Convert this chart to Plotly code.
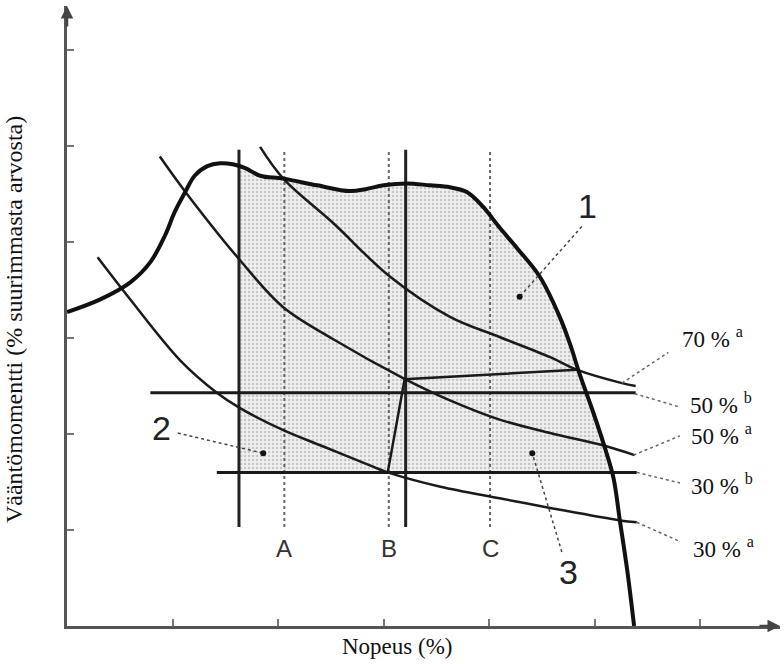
import plotly.graph_objects as go
import numpy as np

# ---------------- data (axis units: 1 tick = 1 unit) ----------------
tick_vals = [1, 2, 3, 4, 5, 6]

# full-load torque curve
full_x = [0, 0.31, 0.60, 0.79, 0.93, 1.02, 1.12, 1.21, 1.33, 1.45, 1.57, 1.69, 1.83, 2.05, 2.37,
          2.68, 2.83, 3.00, 3.22, 3.44, 3.63, 3.79, 3.94, 4.10, 4.27, 4.48, 4.67, 4.77,
          4.86, 4.98, 5.10, 5.18, 5.24, 5.31, 5.375]
full_y = [3.27, 3.40, 3.58, 3.79, 4.07, 4.31, 4.52, 4.69, 4.79, 4.82, 4.81, 4.77, 4.69, 4.66, 4.59,
          4.53, 4.55, 4.59, 4.61, 4.59, 4.57, 4.52, 4.37, 4.15, 3.93, 3.64, 3.22, 2.93,
          2.62, 2.25, 1.85, 1.54, 1.10, 0.58, 0.00]

# power hyperbolas
p70a_x = [1.83, 2.05, 2.52, 3.06, 3.63, 4.10, 4.58, 4.83, 5.26, 5.39]
p70a_y = [4.99, 4.66, 4.20, 3.64, 3.22, 3.01, 2.80, 2.67, 2.53, 2.50]
p50a_x = [0.88, 1.11, 1.64, 2.05, 2.52, 3.19, 3.63, 4.10, 4.58, 5.12, 5.38]
p50a_y = [4.89, 4.54, 3.81, 3.32, 2.99, 2.58, 2.35, 2.15, 2.01, 1.87, 1.78]
p30a_x = [0.29, 0.60, 1.07, 1.42, 1.64, 2.05, 2.43, 2.90, 3.04, 3.54, 4.10, 4.58, 5.24, 5.40]
p30a_y = [3.84, 3.40, 2.77, 2.43, 2.27, 2.04, 1.87, 1.66, 1.60, 1.45, 1.33, 1.23, 1.10, 1.08]

# constant torque lines
t50b_x = [0.79, 5.39]
t50b_y = [2.43, 2.43]
t30b_x = [1.42, 5.40]
t30b_y = [1.60, 1.60]

# connecting line
conn_x = [3.04, 3.20, 4.83]
conn_y = [1.60, 2.57, 2.67]

# vertical speed lines
solid_v_x = [1.63, 3.21]
dotted_v_x = [2.06, 3.05, 4.01]
v_y = [1.03, 4.96]
speed_names = ["A", "B", "C"]
speed_label_y = 0.81

# numbered zone labels
zone_names = ["1", "2", "3"]
zone_text_x = [4.93, 0.90, 4.75]
zone_text_y = [4.38, 2.06, 0.56]
zone_lead_x0 = [4.88, 1.05, 4.69]
zone_lead_y0 = [4.16, 2.01, 0.77]
zone_lead_x1 = [4.29, 1.86, 4.41]
zone_lead_y1 = [3.43, 1.80, 1.80]

# right-hand curve labels
curve_labels = ["70 %", "50 %", "50 %", "30 %", "30 %"]
curve_sups = ["a", "b", "a", "b", "a"]
label_x = [5.81, 5.89, 5.90, 5.90, 5.91]
label_y = [3.01, 2.32, 1.99, 1.47, 0.82]
lead_x0 = [5.26, 5.38, 5.37, 5.40, 5.40]
lead_y0 = [2.53, 2.42, 1.78, 1.60, 1.08]
lead_x1 = [5.70, 5.81, 5.81, 5.81, 5.81]
lead_y1 = [2.85, 2.28, 1.98, 1.49, 0.88]

x_title = "Nopeus (%)"
y_title = "Vääntömomentti (% suurimmasta arvosta)"

X_MAX = 6.758
Y_MAX = 6.458

# ---------------- figure ----------------
fig = go.Figure()

# shaded operating area: left solid line, full-load curve, 30 % b line
fx = np.array(full_x)
fy = np.array(full_y)
x_left = solid_v_x[0]
y_bot = t30b_y[0]
y_top_left = float(np.interp(x_left, fx, fy))
mask = (fx > x_left) & (fy > y_bot)
desc = fx > 4.5
x_right = float(np.interp(y_bot, fy[desc][::-1], fx[desc][::-1]))
poly_x = [x_left, x_left] + list(fx[mask]) + [x_right, x_left]
poly_y = [y_bot, y_top_left] + list(fy[mask]) + [y_bot, y_bot]
fig.add_trace(go.Scatter(x=poly_x, y=poly_y, mode="lines", fill="toself",
                         fillcolor="rgba(220,220,220,0.5)",
                         fillpattern=dict(shape=".", fgcolor="#9c9c9c", bgcolor="#efefef",
                                          size=4, solidity=0.3),
                         line=dict(width=0), hoverinfo="skip", showlegend=False))

# dotted vertical lines
for xv in dotted_v_x:
    fig.add_trace(go.Scatter(x=[xv, xv], y=v_y, mode="lines",
                             line=dict(color="#666", width=2, dash="dot"), showlegend=False))
# solid vertical lines
for xv in solid_v_x:
    fig.add_trace(go.Scatter(x=[xv, xv], y=v_y, mode="lines",
                             line=dict(color="#222", width=3), showlegend=False))

# horizontal constant torque lines
for xs, ys in [(t50b_x, t50b_y), (t30b_x, t30b_y)]:
    fig.add_trace(go.Scatter(x=xs, y=ys, mode="lines",
                             line=dict(color="#1a1a1a", width=3), showlegend=False))

# power curves
for xs, ys in [(p70a_x, p70a_y), (p50a_x, p50a_y), (p30a_x, p30a_y)]:
    fig.add_trace(go.Scatter(x=xs, y=ys, mode="lines", line_shape="spline",
                             line=dict(color="#1a1a1a", width=2.5), showlegend=False))

# connecting line
fig.add_trace(go.Scatter(x=conn_x, y=conn_y, mode="lines",
                         line=dict(color="#1a1a1a", width=2.5), showlegend=False))

# full-load curve
fig.add_trace(go.Scatter(x=full_x, y=full_y, mode="lines", line_shape="spline",
                         line=dict(color="#111", width=4), showlegend=False))

# leader lines for right labels
for i in range(len(curve_labels)):
    fig.add_trace(go.Scatter(x=[lead_x0[i], lead_x1[i]], y=[lead_y0[i], lead_y1[i]], mode="lines",
                             line=dict(color="#666", width=1.5, dash="dot"), showlegend=False))
    fig.add_annotation(x=label_x[i], y=label_y[i], xref="x", yref="y", xanchor="left",
                       yanchor="middle", showarrow=False,
                       text=f"{curve_labels[i]} <sup>{curve_sups[i]}</sup>",
                       font=dict(family="Liberation Serif", size=23, color="#111"))

# zone leaders and labels
for i in range(len(zone_names)):
    fig.add_trace(go.Scatter(x=[zone_lead_x0[i], zone_lead_x1[i]],
                             y=[zone_lead_y0[i], zone_lead_y1[i]], mode="lines",
                             line=dict(color="#444", width=1.5, dash="dot"), showlegend=False))
    fig.add_trace(go.Scatter(x=[zone_lead_x1[i]], y=[zone_lead_y1[i]], mode="markers",
                             marker=dict(color="#111", size=6), showlegend=False))
    fig.add_annotation(x=zone_text_x[i], y=zone_text_y[i], xref="x", yref="y",
                       showarrow=False, text=zone_names[i],
                       font=dict(family="Liberation Sans", size=34, color="#222"))

# speed labels
for xv, nm in zip(dotted_v_x, speed_names):
    fig.add_annotation(x=xv, y=speed_label_y, xref="x", yref="y", showarrow=False, text=nm,
                       font=dict(family="Liberation Sans", size=24, color="#333"))

# axis titles
fig.add_annotation(x=0.463, y=-0.01, xref="paper", yref="paper", yanchor="top",
                   showarrow=False, text=x_title,
                   font=dict(family="Liberation Serif", size=23, color="#111"))
fig.add_annotation(x=0, y=0.4935, xref="paper", yref="paper", xanchor="center",
                   yanchor="middle", xshift=-53, textangle=-90,
                   showarrow=False, text=y_title,
                   font=dict(family="Liberation Serif", size=24, color="#111"))

# axis arrows
fig.add_annotation(x=0, y=1, xref="x", yref="paper", ax=0, ay=22, showarrow=True,
                   arrowhead=2, arrowsize=1, arrowwidth=2.5, arrowcolor="#444", text="")
fig.add_annotation(x=1, y=0, xref="paper", yref="y", ax=-22, ay=0, showarrow=True,
                   arrowhead=2, arrowsize=1, arrowwidth=2.5, arrowcolor="#444", text="")

fig.update_xaxes(range=[0, X_MAX], showgrid=False, zeroline=False, showline=True,
                 linecolor="#555", linewidth=3, tickvals=tick_vals, ticks="inside",
                 ticklen=7, tickwidth=1.5, tickcolor="#777", showticklabels=False)
fig.update_yaxes(range=[0, Y_MAX], showgrid=False, zeroline=False, showline=True,
                 linecolor="#555", linewidth=3, tickvals=tick_vals, ticks="inside",
                 ticklen=7, tickwidth=1.5, tickcolor="#777", showticklabels=False)

fig.update_layout(width=784, height=664, margin=dict(l=67, r=4, t=6, b=38),
                  plot_bgcolor="white", paper_bgcolor="white", showlegend=False)

fig.write_html("out.html", config={"displayModeBar": False},
               post_script="document.body.style.margin='0px';document.body.style.overflow='hidden';")
